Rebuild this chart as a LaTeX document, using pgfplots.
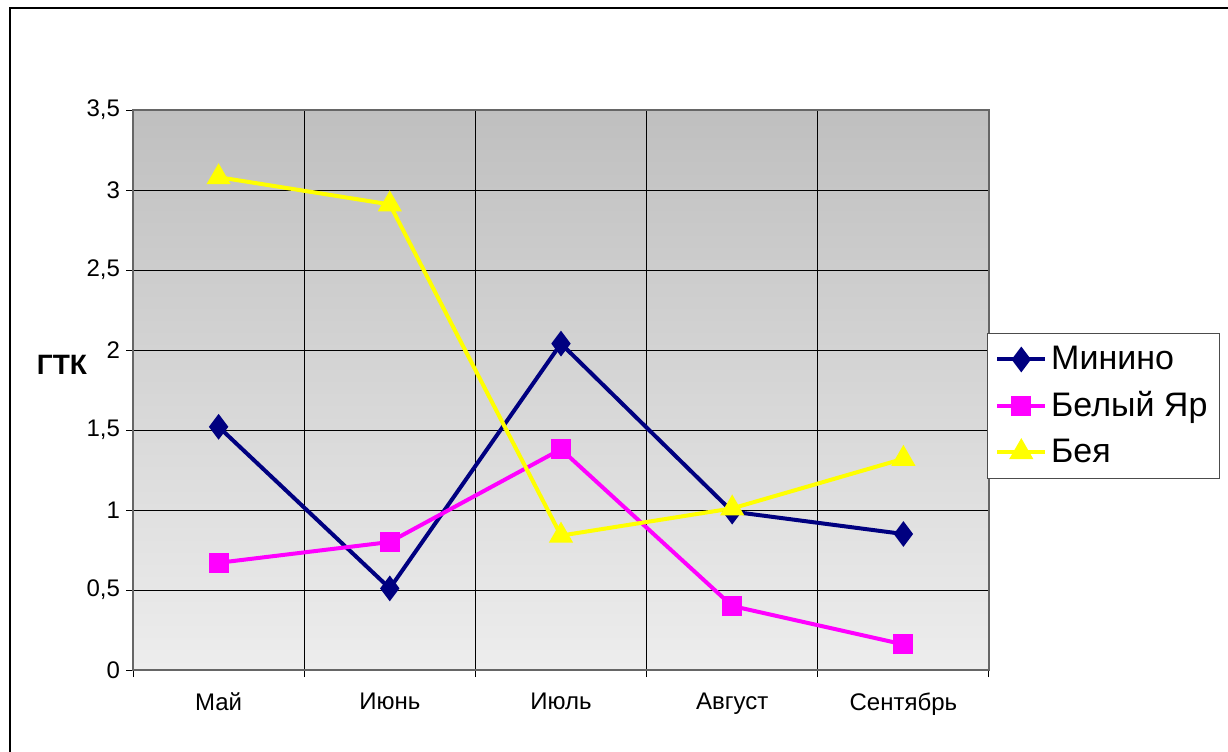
\documentclass[border=0pt]{standalone}
\usepackage{fontspec}
\setmainfont{Liberation Sans}
\usepackage{pgfplots}
\pgfplotsset{compat=1.18}
\definecolor{navyc}{RGB}{0,0,128}
\definecolor{magc}{RGB}{255,0,255}
\definecolor{yelc}{RGB}{255,255,0}
\begin{document}
\begin{tikzpicture}
\path[use as bounding box] (0pt,0pt) rectangle (614pt,375.5pt);
\draw[black, line width=0.6pt] (5pt,-2pt) -- (5pt,371.5pt) -- (616pt,371.5pt);
\begin{axis}[
  at={(66.5pt,40.5pt)}, anchor=south west,
  scale only axis, width=428pt, height=280pt,
  xmin=-0.5, xmax=4.5, ymin=0, ymax=3.5,
  xtick={0,1,2,3,4},
  xticklabels={Май,Июнь,Июль,Август,Сентябрь},
  ytick={0,0.5,1,1.5,2,2.5,3,3.5},
  minor xtick={-0.5,0.5,1.5,2.5,3.5,4.5},
  minor ytick={0,0.5,1,1.5,2,2.5,3,3.5},
  xminorgrids=true, ymajorgrids=true,
  major grid style={black, line width=0.5pt},
  minor grid style={black, line width=0.5pt},
  major tick length=0pt, minor tick length=3.5pt,
  tick align=outside, xtick pos=bottom, ytick pos=left,
  tick style={black, line width=0.5pt},
  axis line style={draw=black!60, line width=0.7pt},
  axis background/.style={shade, top color=black!25, bottom color=black!7},
  ticklabel style={font=\fontsize{12}{14}\selectfont},
  /pgf/number format/assume math mode=true,
  /pgf/number format/use comma,
  yticklabel style={xshift=-3pt},
  xticklabel style={yshift=-8pt},
  legend style={at={(axis description cs:1,0.602)}, anchor=north west, xshift=-1pt,
    draw=black!70, fill=white, font=\fontsize{17}{20}\selectfont,
    inner xsep=4pt, inner ysep=4.5pt, row sep=5.5pt},
  legend cell align=left,
  legend image code/.code={\draw[mark repeat=2,mark phase=2] plot coordinates {(0cm,0cm) (0.42cm,0cm) (0.84cm,0cm)};},
]
\addplot[color=navyc, line width=2pt, mark=diamond*, mark size=4.8pt, mark options={solid}]
  coordinates {(0,1.52) (1,0.51) (2,2.04) (3,0.99) (4,0.85)};
\addlegendentry{Минино}
\addplot[color=magc, line width=2pt, mark=square*, mark size=4pt, mark options={solid}]
  coordinates {(0,0.67) (1,0.80) (2,1.38) (3,0.40) (4,0.16)};
\addlegendentry{Белый Яр}
\addplot[color=yelc, line width=2pt, mark=triangle*, mark size=5pt, mark options={solid}]
  coordinates {(0,3.08) (1,2.91) (2,0.84) (3,1.01) (4,1.32)};
\addlegendentry{Бея}
\end{axis}
\node[font=\bfseries\fontsize{14}{16}\selectfont] at (31pt,193pt) {ГТК};
\end{tikzpicture}
\end{document}
